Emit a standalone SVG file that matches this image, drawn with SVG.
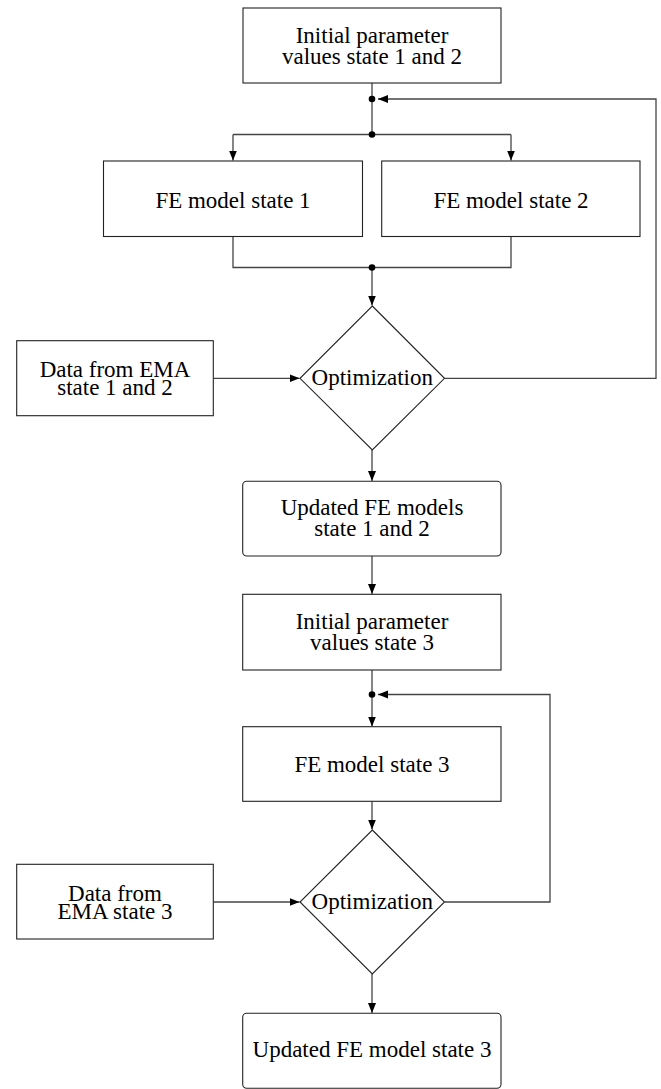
<svg xmlns="http://www.w3.org/2000/svg" width="661" height="1089" viewBox="0 0 661 1089">
<style>
.box{fill:#fff;stroke:#222;stroke-width:1.1}
.t{font-family:"Liberation Serif","Times New Roman",serif;font-size:23px;fill:#000;text-anchor:middle}
.c{fill:none;stroke:#444;stroke-width:1.3}
.dot{fill:#000}
</style>
<defs>
<marker id="ah" markerUnits="userSpaceOnUse" markerWidth="11" markerHeight="9" refX="10" refY="4" orient="auto">
<path d="M0,0 L10,4 L0,8 z" fill="#000"/>
</marker>
</defs>
<rect width="661" height="1089" fill="#fff"/>
<g id="connectors">
<path class="c" d="M372,83 V134.5"/>
<path class="c" d="M233,134.5 H511"/>
<path class="c" d="M233,134.5 V160.5" marker-end="url(#ah)"/>
<path class="c" d="M511,134.5 V160.5" marker-end="url(#ah)"/>
<path class="c" d="M233,236.5 V267.5 H511 V236.5"/>
<path class="c" d="M372,267.5 V305.5" marker-end="url(#ah)"/>
<path class="c" d="M213.3,378.3 H299.5" marker-end="url(#ah)"/>
<path class="c" d="M444.5,378.3 H656 V99 H378" marker-end="url(#ah)"/>
<path class="c" d="M372,450 V481" marker-end="url(#ah)"/>
<path class="c" d="M372,556 V594" marker-end="url(#ah)"/>
<path class="c" d="M372,670 V726.5" marker-end="url(#ah)"/>
<path class="c" d="M372,801.3 V829.5" marker-end="url(#ah)"/>
<path class="c" d="M213.3,902 H299.5" marker-end="url(#ah)"/>
<path class="c" d="M444.5,902 H550 V694.5 H378" marker-end="url(#ah)"/>
<path class="c" d="M372,974 V1013" marker-end="url(#ah)"/>
<circle class="dot" cx="372" cy="99" r="3.3"/>
<circle class="dot" cx="372" cy="134.5" r="3.3"/>
<circle class="dot" cx="372" cy="267.5" r="3.3"/>
<circle class="dot" cx="372" cy="694.5" r="3.3"/>
</g>
<g id="init12">
<rect class="box" x="243" y="8" width="258" height="75"/>
<text class="t" x="372" y="43">Initial parameter</text>
<text class="t" x="372" y="64">values state 1 and 2</text>
</g>
<g id="fe1">
<rect class="box" x="103.5" y="161" width="259" height="75.5"/>
<text class="t" x="233" y="207.5">FE model state 1</text>
</g>
<g id="fe2">
<rect class="box" x="381.7" y="161" width="258.3" height="75.5"/>
<text class="t" x="511" y="207.5">FE model state 2</text>
</g>
<g id="data12">
<rect class="box" x="16.7" y="340.7" width="196.6" height="75"/>
<text class="t" x="115" y="377">Data from EMA</text>
<text class="t" x="115" y="395">state 1 and 2</text>
</g>
<g id="opt1">
<path class="box" d="M372.3,306 L444.5,378.3 L372.3,450 L300,378.3 Z"/>
<text class="t" x="372.3" y="385">Optimization</text>
</g>
<g id="upd12">
<rect class="box" x="242.7" y="481.3" width="258.3" height="74.7" rx="4"/>
<text class="t" x="372" y="515">Updated FE models</text>
<text class="t" x="372" y="535.7">state 1 and 2</text>
</g>
<g id="init3">
<rect class="box" x="242.7" y="594.3" width="258.3" height="75.7"/>
<text class="t" x="372" y="629.3">Initial parameter</text>
<text class="t" x="372" y="650">values state 3</text>
</g>
<g id="fe3">
<rect class="box" x="242.7" y="726.7" width="258.3" height="74.6"/>
<text class="t" x="372" y="772">FE model state 3</text>
</g>
<g id="data3">
<rect class="box" x="16.7" y="864.3" width="196.6" height="74.7"/>
<text class="t" x="115" y="901">Data from</text>
<text class="t" x="115" y="918.7">EMA state 3</text>
</g>
<g id="opt2">
<path class="box" d="M372.3,830 L444.5,902 L372.3,974 L300,902 Z"/>
<text class="t" x="372.3" y="908.5">Optimization</text>
</g>
<g id="upd3">
<rect class="box" x="242.7" y="1013.3" width="258.3" height="75" rx="4"/>
<text class="t" x="372" y="1057.3">Updated FE model state 3</text>
</g>
</svg>
